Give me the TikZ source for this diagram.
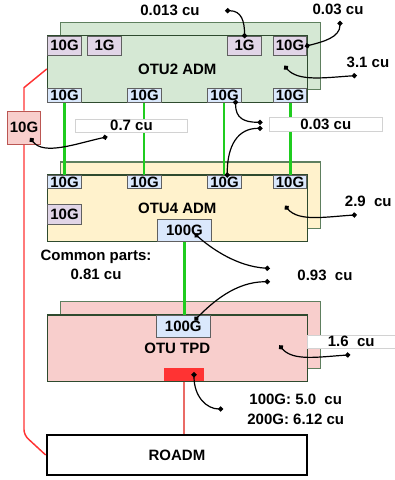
\documentclass[tikz,border=0pt]{standalone}
\usepackage{fontspec}
\setmainfont{Liberation Sans}
\usetikzlibrary{arrows.meta, calc}
\definecolor{admgreen}{HTML}{D5E8D4}
\definecolor{admyellow}{HTML}{FFF2CC}
\definecolor{tpdpink}{HTML}{F8CECC}
\definecolor{edgegreen}{HTML}{2E4A2E}
\definecolor{backedge}{HTML}{5E7F5E}
\definecolor{lilacfill}{HTML}{E1D5E7}
\definecolor{skyfill}{HTML}{DAE8FC}
\definecolor{laserred}{HTML}{FF3333}
\definecolor{dropred}{HTML}{EA6B66}
\definecolor{fibregreen}{HTML}{1FCC1F}

\begin{document}
\begin{tikzpicture}[x=0.75pt, y=-0.75pt,
  font=\fontsize{11.25}{13}\selectfont\bfseries,
  card/.style={draw=#1, line width=0.8pt, inner sep=0pt, minimum width=195pt, minimum height=50pt},
  port/.style={draw=gray!75!black, line width=0.6pt, inner sep=0pt, minimum width=25.25pt},
  lilac/.style={port, fill=lilacfill, minimum height=14.5pt},
  sky/.style={port, fill=skyfill, minimum height=10pt},
  valuebox/.style={draw=gray!35, fill=white, line width=0.6pt, inner sep=0pt, minimum height=10pt},
  lead/.style={line width=0.9pt, {Circle[length=3.8pt]}-{Circle[length=3.8pt]}, shorten <=-1.9pt, shorten >=-1.9pt},
  fibre/.style={fibregreen, line width=2.2pt},
  redwire/.style={laserred, line width=1.1pt}]
  \useasboundingbox (0,0) rectangle (395,480);
  % OTU2 ADM
  \node[card=backedge, fill=admgreen] (otu2back) at (190.3,55.7) {};
  \node[card=edgegreen, fill=admgreen] (otu2) at (177.3,69) {OTU2 ADM};
  % OTU4 ADM
  \node[card=backedge, fill=admyellow] (otu4back) at (190.3,195.3) {};
  \node[card=edgegreen, fill=admyellow] (otu4) at (177.3,208.3) {OTU4 ADM};
  % OTU TPD
  \node[card=backedge, fill=tpdpink] (tpdback) at (190.3,335) {};
  \node[card=edgegreen, fill=tpdpink] (tpd) at (177.3,348.3) {OTU TPD};
  % ROADM
  \node[draw, line width=1.5pt, fill=white, inner sep=0pt, minimum width=195.5pt, minimum height=30pt] (roadm) at (177,455) {ROADM};

  % fibres between the cards
  \draw[fibre] (47.3+16.85,102.3) coordinate (f1) -- (f1 |- 0,175);
  \draw[fibre] (144,102.3) coordinate (f2) -- (f2 |- 0,175);
  \draw[fibre] (224,102.3) coordinate (f3) -- (f3 |- 0,175);
  \draw[fibre] (290.7,102.3) coordinate (f4) -- (f4 |- 0,175);

  % ports of OTU2 ADM
  \node[lilac, anchor=north west] (a10g) at (47.3,35.7) {10G};
  \node[lilac, anchor=north west] (a1g) at (87.3,35.7) {1G};
  \node[lilac, anchor=north west] (b1g) at (227.3,35.7) {1G};
  \node[lilac, anchor=north east] (b10g) at (307.3,35.7) {10G};
  \node[sky, anchor=south west] (up1) at (47.3,102.3) {10G};
  \node[sky, anchor=south west] (up2) at (127.3,102.3) {10G};
  \node[sky, anchor=south west] (up3) at (207.3,102.3) {10G};
  \node[sky, anchor=south east] (up4) at (307.3,102.3) {10G};
  % ports of OTU4 ADM
  \node[sky, anchor=north west] (dn1) at (47.3,175) {10G};
  \node[sky, anchor=north west] (dn2) at (127.3,175) {10G};
  \node[sky, anchor=north west] (dn3) at (207.3,175) {10G};
  \node[sky, anchor=north east] (dn4) at (307.3,175) {10G};
  \node[lilac, anchor=north west, minimum height=14.8pt] (c10g) at (47.3,204.3) {10G};
  \node[port, fill=skyfill, anchor=south, minimum width=40.7pt, minimum height=16.3pt] (mux) at (184.5,241.7) {100G};
  % ports of OTU TPD
  \node[port, fill=skyfill, anchor=north, minimum width=40pt, minimum height=16.7pt] (tpd100) at (183.3,315) {100G};
  \node[fill=laserred, anchor=south, inner sep=0pt, minimum width=30pt, minimum height=10pt] (laser) at (184,381.7) {};

  % client and line wiring
  \draw[fibre] (mux.south) -- (mux.south |- tpd100.north);
  \draw[dropred, line width=1.2pt] (laser.south) -- (laser.south |- roadm.north);
  \node[draw=dropred!80!black, fill=tpdpink, line width=0.6pt, inner sep=0pt, minimum size=25pt] (red10g) at (24,127.7) {10G};
  \draw[redwire] (otu2.west) -- ($(red10g.north)+(0,-23)$) -- (red10g.north);
  \draw[redwire, rounded corners=4pt] (red10g.south) -- ($(red10g.south |- roadm.west)+(0,-20)$) -- (roadm.west);

  % costs
  \node (t013) at (170,10.7) {0.013 cu};
  \coordinate (d013) at (227.7,10.7);
  \node (t03a) at (338,9.3) {0.03 cu};
  \coordinate (d03a) at (340,23.3);
  \node (t31) at (368,62.3) {3.1 cu};
  \coordinate (d31) at (354.3,75.7);
  \coordinate (s31) at (286,67.7);
  \node[valuebox, minimum width=83.7pt] (t07) at (131.5,125.7) {0.7 cu};
  \coordinate (d07) at (105,137.3);
  \coordinate (s07) at (31.7,140);
  \node[valuebox, minimum width=84.75pt] (t03b) at (325.8,124.3) {0.03 cu};
  \coordinate (d03b) at (260,122.3);
  \coordinate (d03c) at (260,128.3);
  \node (t29) at (368.3,201.7) {2.9\ \ cu};
  \coordinate (d29) at (354.3,215);
  \coordinate (s29) at (286.7,207.7);
  \node[align=center, font=\fontsize{11.25}{14}\selectfont\bfseries] (common) at (96,265) {Common parts:\\0.81 cu};
  \node (t093) at (325,275.7) {0.93\ \ cu};
  \coordinate (d093a) at (267.3,268.3);
  \coordinate (d093b) at (267.3,281.7);
  \node[valuebox, minimum width=65.8pt] (t16) at (351.2,341.7) {1.6\ \ cu};
  \coordinate (d16) at (347.7,355);
  \coordinate (s16) at (281,347.3);
  \node[align=center, font=\fontsize{11.25}{14.8}\selectfont\bfseries] (t100) at (295.7,409) {100G: 5.0\ \ cu\\200G: 6.12 cu};
  \coordinate (d100) at (220.7,409);

  % leaders
  \draw[lead] (d013) .. controls +(14,0) and +(0,-14) .. (b1g.north);
  \draw[lead] (d03a) .. controls +(0,14) and +(16,-4) .. (b10g.east);
  \draw[lead] (s31) .. controls +(12,14) and +(-30,2) .. (d31);
  \draw[lead] (s07) .. controls +(12,16) and +(-28,6) .. (d07);
  \draw[lead] ($(up3.south)+(11,0)$) .. controls +(0,16) and +(-16,0) .. (d03b);
  \draw[lead] (d03c) .. controls +(-22,0) and +(0,-30) .. ($(dn3.north)+(2.7,0)$);
  \draw[lead] (s29) .. controls +(12,14) and +(-30,2) .. (d29);
  \draw[lead] ($(mux.center)+(12,5)$) .. controls +(16,14) and +(-30,-2) .. (d093a);
  \draw[lead] (d093b) .. controls +(-32,0) and +(16,-16) .. ($(tpd100.center)+(13,-8)$);
  \draw[lead] (s16) .. controls +(12,14) and +(-30,2) .. (d16);
  \draw[lead] ($(laser.center)+(10,0)$) .. controls +(0,22) and +(-14,0) .. (d100);
\end{tikzpicture}
\end{document}
